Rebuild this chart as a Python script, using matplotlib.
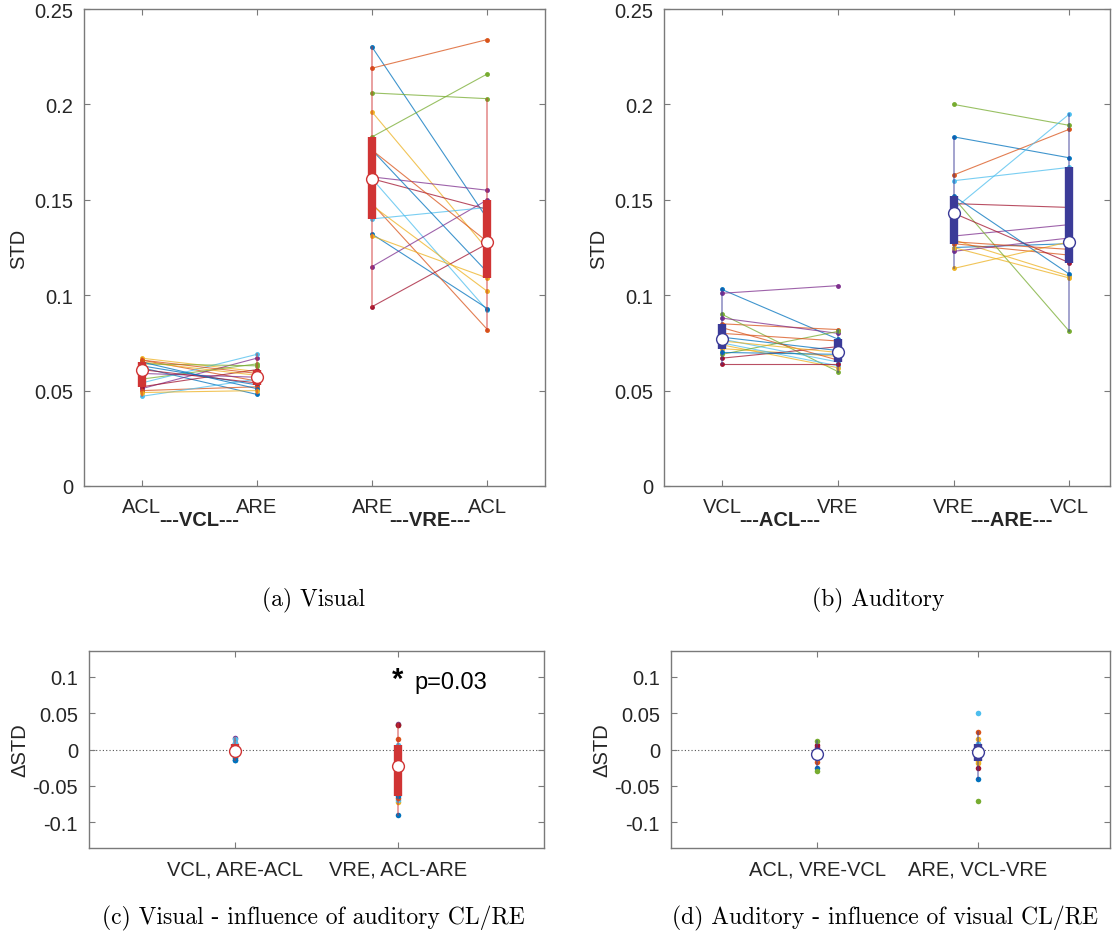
import numpy as np
import matplotlib.pyplot as plt

plt.rcParams['font.family'] = ['Liberation Sans', 'DejaVu Sans']
plt.rcParams['axes.unicode_minus'] = False

# matlab default colour order, cycled over subjects
subj_colors = ['#0072BD', '#D95319', '#EDB120', '#7E2F8E', '#77AC30', '#4DBEEE', '#A2142F']

# visual STD, VCL block (ACL -> ARE)
vis_vcl_acl = [0.062, 0.066, 0.067, 0.051, 0.056, 0.054, 0.052, 0.063, 0.050,
               0.065, 0.059, 0.064, 0.047, 0.061, 0.065, 0.066, 0.049]
vis_vcl_are = [0.048, 0.055, 0.060, 0.067, 0.064, 0.069, 0.061, 0.053, 0.052,
               0.058, 0.057, 0.063, 0.056, 0.054, 0.051, 0.059, 0.050]
# visual STD, VRE block (ARE -> ACL)
vis_vre_are = [0.230, 0.219, 0.196, 0.162, 0.206, 0.161, 0.161, 0.132, 0.148,
               0.147, 0.115, 0.183, 0.140, 0.094, 0.176, 0.176, 0.131]
vis_vre_acl = [0.140, 0.234, 0.124, 0.155, 0.203, 0.092, 0.145, 0.093, 0.082,
               0.102, 0.150, 0.216, 0.146, 0.127, 0.112, 0.128, 0.109]

# auditory STD, ACL block (VCL -> VRE)
aud_acl_vcl = [0.103, 0.085, 0.072, 0.101, 0.090, 0.075, 0.067, 0.078, 0.083,
               0.074, 0.088, 0.069, 0.077, 0.064, 0.070, 0.080, 0.076]
aud_acl_vre = [0.077, 0.082, 0.068, 0.105, 0.060, 0.063, 0.073, 0.071, 0.066,
               0.062, 0.080, 0.081, 0.065, 0.064, 0.069, 0.076, 0.070]
# auditory STD, ARE block (VRE -> VCL)
aud_are_vre = [0.183, 0.163, 0.129, 0.131, 0.200, 0.145, 0.148, 0.125, 0.127,
               0.114, 0.123, 0.151, 0.160, 0.143, 0.152, 0.128, 0.125]
aud_are_vcl = [0.172, 0.187, 0.110, 0.137, 0.189, 0.195, 0.146, 0.127, 0.121,
               0.128, 0.130, 0.081, 0.167, 0.117, 0.111, 0.124, 0.109]

vis_ticklabels = ['ACL', 'ARE', 'ARE', 'ACL']
vis_blocks = ['---VCL---', '---VRE---']
aud_ticklabels = ['VCL', 'VRE', 'VRE', 'VCL']
aud_blocks = ['---ACL---', '---ARE---']
vis_diff_labels = ['VCL, ARE-ACL', 'VRE, ACL-ARE']
aud_diff_labels = ['ACL, VRE-VCL', 'ARE, VCL-VRE']

red = '#D03434'
blue = '#3B3B98'
spine_col = '#7a7a7a'
text_col = '#262626'


def style(ax):
    for s in ax.spines.values():
        s.set_color(spine_col)
        s.set_linewidth(1.0)
    ax.tick_params(direction='in', top=True, right=True, length=4, width=0.8,
                   color=spine_col, labelcolor=text_col, labelsize=14.5, pad=8)


def summary(ax, x, vals, col):
    v = np.asarray(vals)
    q1, med, q3 = np.percentile(v, [25, 50, 75])
    iqr = q3 - q1
    lo = v[v >= q1 - 1.5 * iqr].min()
    hi = v[v <= q3 + 1.5 * iqr].max()
    ax.plot([x, x], [lo, hi], color=col, lw=1.2, alpha=0.55, zorder=4)
    ax.plot([x, x], [q1, q3], color=col, lw=6, solid_capstyle='butt', zorder=5)
    ax.plot(x, med, 'o', ms=8.5, mfc='white', mec=col, mew=1.0, zorder=6)


def paired(ax, x0, a, b, col):
    for i in range(len(a)):
        c = subj_colors[i % 7]
        ax.plot([x0, x0 + 1], [a[i], b[i]], color=c, lw=0.8, alpha=0.75, zorder=2)
        ax.plot([x0, x0 + 1], [a[i], b[i]], 'o', color=c, ms=3.5, mew=0, zorder=3)
    summary(ax, x0, a, col)
    summary(ax, x0 + 1, b, col)


def top_panel(ax, a1, b1, a2, b2, ticklabels, blocks, col, xmax):
    paired(ax, 1, a1, b1, col)
    paired(ax, 3, a2, b2, col)
    ax.set_xlim(0.5, xmax)
    ax.set_ylim(0, 0.25)
    ax.set_yticks([0, 0.05, 0.1, 0.15, 0.2, 0.25])
    ax.set_yticklabels(['0', '0.05', '0.1', '0.15', '0.2', '0.25'])
    ax.set_xticks([1, 2, 3, 4])
    ax.set_xticklabels(ticklabels)
    ax.set_ylabel('STD', fontsize=14.5, color=text_col, labelpad=4)
    style(ax)
    # condition block names between each pair of ticks
    for k, name in enumerate(blocks):
        ax.text(1.5 + 2 * k, -0.0175, name, ha='center', va='center',
                fontsize=14.5, fontweight='bold', color=text_col, clip_on=False)


def diff_panel(ax, a1, b1, a2, b2, labels, col, xlim):
    ax.axhline(0, color='#555555', lw=0.8, ls=(0, (1, 2)), zorder=1)
    for x, (a, b) in enumerate([(a1, b1), (a2, b2)], start=1):
        d = np.asarray(b) - np.asarray(a)
        for i in range(len(d)):
            ax.plot(x, d[i], 'o', color=subj_colors[i % 7], ms=4, mew=0, zorder=3)
        summary(ax, x, d, col)
    ax.set_xlim(*xlim)
    ax.set_ylim(-0.135, 0.135)
    ax.set_yticks([-0.1, -0.05, 0, 0.05, 0.1])
    ax.set_yticklabels(['-0.1', '-0.05', '0', '0.05', '0.1'])
    ax.set_xticks([1, 2])
    ax.set_xticklabels(labels)
    ax.set_ylabel('\u0394STD', fontsize=14.5, color=text_col, labelpad=2)
    style(ax)


W, H = 1114, 945
fig = plt.figure(figsize=(W / 100, H / 100), dpi=100)


def box(l, r, t, b):
    return [l / W, 1 - b / H, (r - l) / W, (b - t) / H]


ax_a = fig.add_axes(box(84, 545, 10, 487))
ax_b = fig.add_axes(box(664, 1110, 10, 487))
ax_c = fig.add_axes(box(89, 544, 652, 849))
ax_d = fig.add_axes(box(671, 1110, 652, 849))

top_panel(ax_a, vis_vcl_acl, vis_vcl_are, vis_vre_are, vis_vre_acl,
          vis_ticklabels, vis_blocks, red, 4.5)
top_panel(ax_b, aud_acl_vcl, aud_acl_vre, aud_are_vre, aud_are_vcl,
          aud_ticklabels, aud_blocks, blue, 4.35)
diff_panel(ax_c, vis_vcl_acl, vis_vcl_are, vis_vre_are, vis_vre_acl,
           vis_diff_labels, red, (0.1, 2.9))
diff_panel(ax_d, aud_acl_vcl, aud_acl_vre, aud_are_vre, aud_are_vcl,
           aud_diff_labels, blue, (0.093, 2.82))

# significance mark on the VRE difference
ax_c.text(2.0, 0.097, '*', ha='center', va='center', fontsize=21,
          fontweight='bold', color='black')
ax_c.text(2.1, 0.092, 'p=0.03', ha='left', va='center', fontsize=17, color='black')

caps = [('(a) Visual', 313, 600), ('(b) Auditory', 878, 600),
        ('(c) Visual - influence of auditory CL/RE', 313, 918),
        ('(d) Auditory - influence of visual CL/RE', 885, 918)]
for txt, x, y in caps:
    fig.text(x / W, 1 - y / H, txt, ha='center', va='center', fontsize=17,
             family='cmr10', color='black')

fig.savefig('out.png', dpi=100)
